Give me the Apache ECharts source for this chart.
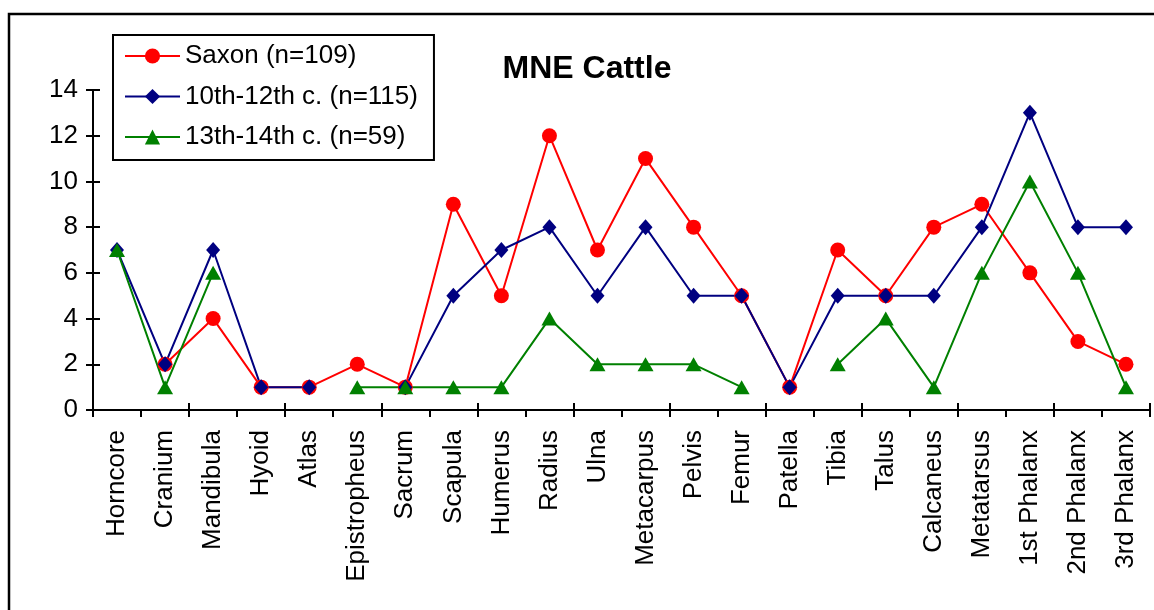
<!DOCTYPE html>
<html>
<head>
<meta charset="utf-8">
<style>
  html, body { margin: 0; padding: 0; background: #fff; }
  #chart { width: 1154px; height: 610px; }
</style>
<script src="https://cdn.jsdelivr.net/npm/echarts@6/dist/echarts.min.js"></script>
</head>
<body>
<div id="chart"></div>
<script>
// Skeletal elements (minimum number of elements, cattle)
const elements = ['Horncore', 'Cranium', 'Mandibula', 'Hyoid', 'Atlas', 'Epistropheus',
  'Sacrum', 'Scapula', 'Humerus', 'Radius', 'Ulna', 'Metacarpus', 'Pelvis', 'Femur',
  'Patella', 'Tibia', 'Talus', 'Calcaneus', 'Metatarsus', '1st Phalanx', '2nd Phalanx', '3rd Phalanx'];

const saxon = [null, 2, 4, 1, 1, 2, 1, 9, 5, 12, 7, 11, 8, 5, 1, 7, 5, 8, 9, 6, 3, 2];
const c10to12 = [7, 2, 7, 1, 1, null, 1, 5, 7, 8, 5, 8, 5, 5, 1, 5, 5, 5, 8, 13, 8, 8];
const c13to14 = [7, 1, 6, null, null, 1, 1, 1, 1, 4, 2, 2, 2, 1, null, 2, 4, 1, 6, 10, 6, 1];

const seriesNames = ['Saxon (n=109)', '10th-12th c. (n=115)', '13th-14th c. (n=59)'];
const yTicks = { min: 0, max: 14, interval: 2 };

const FONT = 'Liberation Sans, Arial, sans-serif';
const chart = echarts.init(document.getElementById('chart'), null, { renderer: 'canvas' });

const labelStyle = { color: '#000', fontSize: 26, fontFamily: FONT };
const axisLine = { show: true, lineStyle: { color: '#000', width: 2 } };
const tickStyle = { color: '#000', width: 2 };

chart.setOption({
  animation: false,
  backgroundColor: '#fff',
  title: {
    text: 'MNE Cattle',
    left: 582, top: 48, textAlign: 'center',
    textStyle: { fontSize: 32, fontWeight: 'bold', color: '#000', fontFamily: FONT }
  },
  legend: {
    orient: 'vertical',
    left: 113, top: 35,
    padding: [8, 16, 10, 11],
    itemWidth: 55, itemHeight: 19, itemGap: 14.5,
    borderColor: '#000', borderWidth: 2,
    textStyle: { color: '#000', fontSize: 26, lineHeight: 26, fontFamily: FONT },
    data: seriesNames
  },
  grid: { left: 93, right: 4, top: 90, bottom: 200, containLabel: false },
  xAxis: [{
    type: 'category', data: elements, position: 'bottom',
    boundaryGap: true,
    axisLine: axisLine,
    axisTick: { show: true, inside: false, length: 7, lineStyle: tickStyle },
    axisLabel: Object.assign({ rotate: 90, margin: 20, interval: 0 }, labelStyle),
    splitLine: { show: false }
  }, {
    type: 'category', data: elements, position: 'bottom',
    boundaryGap: true,
    axisLine: axisLine,
    axisTick: { show: true, inside: true, length: 7, lineStyle: tickStyle },
    axisLabel: { show: false },
    splitLine: { show: false }
  }],
  yAxis: [{
    type: 'value', position: 'left',
    min: yTicks.min, max: yTicks.max, interval: yTicks.interval,
    axisLine: axisLine,
    axisTick: { show: true, inside: false, length: 7, lineStyle: tickStyle },
    axisLabel: Object.assign({ margin: 15 }, labelStyle),
    splitLine: { show: false }
  }, {
    type: 'value', position: 'left',
    min: yTicks.min, max: yTicks.max, interval: yTicks.interval,
    axisLine: axisLine,
    axisTick: { show: true, inside: true, length: 7, lineStyle: tickStyle },
    axisLabel: { show: false },
    splitLine: { show: false }
  }],
  series: [{
    name: seriesNames[0], type: 'line', data: saxon,
    color: '#FF0000',
    symbol: 'circle', symbolSize: 15, showAllSymbol: true,
    lineStyle: { width: 2, color: '#FF0000' },
    itemStyle: { color: '#FF0000' }
  }, {
    name: seriesNames[1], type: 'line', data: c10to12,
    color: '#000080',
    symbol: 'diamond', symbolSize: [14, 16], showAllSymbol: true,
    lineStyle: { width: 2, color: '#000080' },
    itemStyle: { color: '#000080' }
  }, {
    name: seriesNames[2], type: 'line', data: c13to14,
    color: '#008000',
    symbol: 'triangle', symbolSize: [16, 14], showAllSymbol: true,
    lineStyle: { width: 2, color: '#008000' },
    itemStyle: { color: '#008000' }
  }],
  graphic: [{
    type: 'rect', z: 100, silent: true,
    shape: { x: 9, y: 14, width: 1300, height: 800 },
    style: { fill: null, stroke: '#000', lineWidth: 2.5 }
  }]
});
</script>
</body>
</html>
